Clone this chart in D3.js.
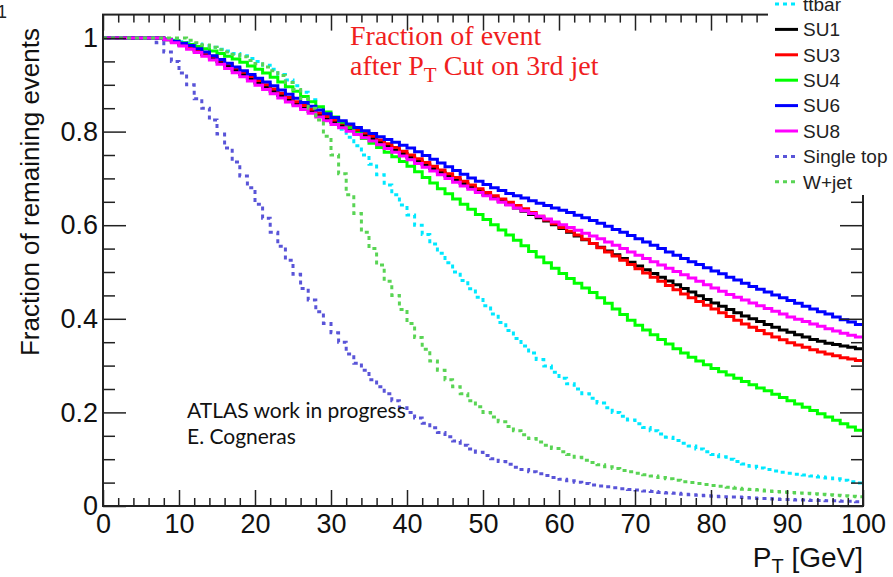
<!DOCTYPE html>
<html>
<head>
<meta charset="utf-8">
<script src="https://cdn.jsdelivr.net/npm/d3@7"></script>
<style>
  body { margin: 0; background: #fff; }
  svg { display: block; }
  .axis text { font-family: "Liberation Sans", Arial, sans-serif; font-size: 27px; fill: #111; }
  .axis line { stroke: #222; stroke-width: 1.5; }
</style>
</head>
<body>
<div class="container"></div>
<script>
// cut on the 3rd jet pT, one bin per GeV, bin i covers [i, i+1]
const xTicks = [0, 10, 20, 30, 40, 50, 60, 70, 80, 90, 100];
const yTicks = [0, 0.2, 0.4, 0.6, 0.8, 1];

const ttbar = [1,1,1,1,1,1,1,1,0.998,0.995,
  0.992,0.99,0.987,0.984,0.98,0.976,0.972,0.967,0.962,0.956,
  0.95,0.942,0.933,0.922,0.91,0.898,0.884,0.868,0.852,0.836,
  0.82,0.805,0.788,0.77,0.75,0.73,0.708,0.686,0.665,0.643,
  0.622,0.6,0.58,0.56,0.54,0.52,0.5,0.482,0.464,0.446,
  0.428,0.41,0.392,0.375,0.358,0.342,0.327,0.313,0.299,0.286,
  0.273,0.261,0.25,0.24,0.23,0.22,0.21,0.2,0.192,0.184,
  0.176,0.168,0.161,0.154,0.147,0.14,0.134,0.128,0.122,0.116,
  0.11,0.105,0.1,0.095,0.09,0.085,0.081,0.078,0.075,0.072,
  0.07,0.068,0.066,0.064,0.062,0.06,0.058,0.055,0.052,0.049];

const su1 = [1,1,1,1,1,1,1,1,0.996,0.991,
  0.985,0.979,0.972,0.965,0.957,0.949,0.94,0.931,0.922,0.913,
  0.904,0.895,0.886,0.877,0.868,0.859,0.851,0.843,0.835,0.827,
  0.82,0.813,0.806,0.799,0.792,0.785,0.777,0.769,0.761,0.753,
  0.745,0.737,0.729,0.721,0.713,0.705,0.697,0.689,0.681,0.673,
  0.665,0.658,0.651,0.644,0.637,0.63,0.623,0.616,0.609,0.601,
  0.593,0.585,0.577,0.569,0.561,0.553,0.545,0.537,0.529,0.521,
  0.513,0.505,0.497,0.489,0.481,0.473,0.465,0.457,0.449,0.441,
  0.434,0.427,0.42,0.413,0.406,0.4,0.394,0.388,0.382,0.376,
  0.371,0.366,0.361,0.356,0.352,0.348,0.345,0.342,0.339,0.336];

const su3 = [1,1,1,1,1,1,1,1,0.997,0.992,
  0.987,0.981,0.975,0.968,0.961,0.953,0.945,0.936,0.927,0.918,
  0.909,0.9,0.891,0.882,0.873,0.864,0.856,0.848,0.84,0.832,
  0.825,0.818,0.811,0.804,0.797,0.79,0.782,0.774,0.766,0.758,
  0.75,0.742,0.734,0.726,0.718,0.71,0.702,0.694,0.686,0.678,
  0.67,0.663,0.656,0.649,0.642,0.635,0.627,0.619,0.611,0.603,
  0.595,0.587,0.579,0.57,0.561,0.552,0.543,0.534,0.525,0.516,
  0.507,0.498,0.489,0.48,0.471,0.462,0.453,0.445,0.437,0.429,
  0.421,0.413,0.405,0.397,0.389,0.382,0.375,0.368,0.361,0.355,
  0.349,0.344,0.339,0.334,0.329,0.325,0.321,0.317,0.314,0.311];

const su4 = [1,1,1,1,1,1,1,1,0.998,0.994,
  0.99,0.986,0.982,0.977,0.972,0.967,0.961,0.955,0.948,0.94,
  0.933,0.925,0.916,0.906,0.896,0.886,0.875,0.864,0.853,0.842,
  0.831,0.82,0.808,0.797,0.785,0.775,0.766,0.756,0.746,0.736,
  0.726,0.714,0.702,0.69,0.678,0.667,0.656,0.645,0.634,0.623,
  0.612,0.601,0.59,0.579,0.568,0.556,0.544,0.532,0.52,0.508,
  0.497,0.486,0.476,0.466,0.456,0.445,0.433,0.421,0.409,0.397,
  0.386,0.376,0.366,0.356,0.346,0.336,0.327,0.318,0.31,0.302,
  0.294,0.287,0.28,0.273,0.266,0.259,0.252,0.246,0.239,0.232,
  0.225,0.218,0.211,0.204,0.197,0.19,0.183,0.176,0.169,0.162];

const su6 = [1,1,1,1,1,1,1,1,0.997,0.993,
  0.989,0.984,0.977,0.97,0.962,0.954,0.946,0.938,0.93,0.922,
  0.914,0.906,0.898,0.889,0.88,0.871,0.862,0.854,0.846,0.838,
  0.83,0.823,0.816,0.809,0.802,0.796,0.789,0.783,0.777,0.771,
  0.765,0.757,0.749,0.741,0.733,0.725,0.717,0.709,0.701,0.694,
  0.687,0.68,0.674,0.668,0.663,0.658,0.652,0.647,0.642,0.637,
  0.632,0.627,0.621,0.616,0.61,0.604,0.598,0.591,0.585,0.578,
  0.571,0.564,0.557,0.55,0.543,0.536,0.529,0.522,0.516,0.509,
  0.502,0.496,0.489,0.483,0.476,0.469,0.463,0.457,0.451,0.445,
  0.439,0.433,0.427,0.421,0.415,0.41,0.404,0.398,0.393,0.388];

const su8 = [1,1,1,1,1,1,1,1,0.996,0.99,
  0.983,0.976,0.969,0.961,0.953,0.944,0.935,0.926,0.917,0.908,
  0.899,0.89,0.881,0.872,0.863,0.855,0.847,0.839,0.831,0.823,
  0.815,0.808,0.801,0.794,0.787,0.78,0.772,0.764,0.756,0.748,
  0.74,0.732,0.724,0.716,0.708,0.7,0.692,0.684,0.677,0.67,
  0.663,0.656,0.649,0.643,0.637,0.631,0.625,0.619,0.613,0.607,
  0.601,0.595,0.589,0.583,0.577,0.571,0.564,0.557,0.55,0.543,
  0.536,0.529,0.522,0.515,0.508,0.501,0.494,0.487,0.48,0.473,
  0.466,0.459,0.452,0.446,0.44,0.434,0.428,0.422,0.416,0.41,
  0.404,0.399,0.394,0.389,0.384,0.379,0.374,0.369,0.365,0.361];

const singleTop = [1,1,1,1,1,1,1,0.99,0.97,0.95,
  0.925,0.9,0.87,0.85,0.825,0.795,0.765,0.735,0.705,0.68,
  0.645,0.615,0.585,0.555,0.525,0.495,0.465,0.44,0.415,0.39,
  0.37,0.35,0.325,0.305,0.29,0.27,0.255,0.24,0.225,0.21,
  0.2,0.188,0.177,0.167,0.157,0.148,0.139,0.13,0.122,0.115,
  0.108,0.101,0.095,0.089,0.083,0.078,0.073,0.069,0.065,0.061,
  0.057,0.054,0.051,0.048,0.045,0.043,0.041,0.039,0.037,0.035,
  0.034,0.032,0.031,0.029,0.028,0.027,0.025,0.024,0.023,0.022,
  0.021,0.02,0.019,0.019,0.018,0.017,0.016,0.016,0.015,0.014,
  0.014,0.013,0.013,0.012,0.012,0.011,0.011,0.01,0.01,0.009];

const wJet = [1,1,1,1,1,1,1,1,1,1,
  1,0.995,0.99,0.985,0.98,0.975,0.97,0.965,0.96,0.952,
  0.945,0.938,0.93,0.92,0.905,0.89,0.87,0.85,0.825,0.79,
  0.75,0.71,0.665,0.625,0.585,0.55,0.515,0.48,0.45,0.42,
  0.39,0.36,0.335,0.31,0.29,0.27,0.255,0.24,0.225,0.212,
  0.2,0.19,0.18,0.17,0.161,0.152,0.144,0.137,0.13,0.123,
  0.116,0.11,0.104,0.098,0.093,0.088,0.084,0.08,0.076,0.073,
  0.07,0.067,0.064,0.061,0.058,0.055,0.052,0.05,0.048,0.046,
  0.044,0.042,0.04,0.038,0.036,0.035,0.034,0.032,0.031,0.03,
  0.029,0.028,0.027,0.026,0.025,0.024,0.023,0.022,0.021,0.02];

const seriesNames = ["ttbar", "SU1", "SU3", "SU4", "SU6", "SU8", "Single top", "W+jet"];
const seriesValues = [ttbar, su1, su3, su4, su6, su8, singleTop, wJet];
const seriesColors = ["#00e8ff", "#000000", "#ff0000", "#00ff00", "#0000ff", "#ff00ff", "#5954d8", "#59d454"];
const seriesDashed = [true, false, false, false, false, false, true, true];

const width = 893;
const height = 577;

const svg = d3.select(".container").append("svg")
  .attr("width", width)
  .attr("height", height);

const x = d3.scaleLinear().domain([0, 100]).range([103, 863]);
const y = d3.scaleLinear().domain([0, 1.05]).range([506, 14.6]);

// histogram curves
const line = d3.line()
  .x((d) => x(d[0]))
  .y((d) => y(d[1]))
  .curve(d3.curveStepAfter);

seriesValues.forEach((values, i) => {
  const pts = values.map((v, k) => [k, v]);
  pts.push([values.length, values[values.length - 1]]);
  svg.append("path")
    .datum(pts)
    .attr("fill", "none")
    .attr("stroke", seriesColors[i])
    .attr("stroke-width", 3)
    .attr("stroke-dasharray", seriesDashed[i] ? "4,4" : null)
    .attr("d", line);
});

// frame
svg.append("rect")
  .attr("x", x(0))
  .attr("y", y(1.05))
  .attr("width", x(100) - x(0))
  .attr("height", y(0) - y(1.05))
  .attr("fill", "none")
  .attr("stroke", "#222")
  .attr("stroke-width", 2);

function cleanAxis(g) {
  g.select(".domain").remove();
}

const xMinor = d3.range(0, 101, 2).filter((d) => d % 10 !== 0);
const yMinor = d3.range(0, 21).map((d) => d * 0.05).filter((d, i) => i % 4 !== 0);

svg.append("g").attr("class", "axis").attr("transform", `translate(0,${y(0)})`)
  .call(d3.axisBottom(x).tickValues(xTicks).tickSize(-16).tickPadding(8).tickFormat((d) => d))
  .call(cleanAxis);
svg.append("g").attr("class", "axis").attr("transform", `translate(0,${y(0)})`)
  .call(d3.axisBottom(x).tickValues(xMinor).tickSize(-8).tickFormat(""))
  .call(cleanAxis);
svg.append("g").attr("class", "axis").attr("transform", `translate(0,${y(1.05)})`)
  .call(d3.axisTop(x).tickValues(xTicks).tickSize(-16).tickFormat(""))
  .call(cleanAxis);
svg.append("g").attr("class", "axis").attr("transform", `translate(0,${y(1.05)})`)
  .call(d3.axisTop(x).tickValues(xMinor).tickSize(-8).tickFormat(""))
  .call(cleanAxis);

svg.append("g").attr("class", "axis").attr("transform", `translate(${x(0)},0)`)
  .call(d3.axisLeft(y).tickValues(yTicks).tickSize(-23).tickPadding(5).tickFormat((d) => d))
  .call(cleanAxis);
svg.append("g").attr("class", "axis").attr("transform", `translate(${x(0)},0)`)
  .call(d3.axisLeft(y).tickValues(yMinor).tickSize(-12).tickFormat(""))
  .call(cleanAxis);
svg.append("g").attr("class", "axis").attr("transform", `translate(${x(100)},0)`)
  .call(d3.axisRight(y).tickValues(yTicks).tickSize(-23).tickFormat(""))
  .call(cleanAxis);
svg.append("g").attr("class", "axis").attr("transform", `translate(${x(100)},0)`)
  .call(d3.axisRight(y).tickValues(yMinor).tickSize(-12).tickFormat(""))
  .call(cleanAxis);

// axis titles
svg.append("text")
  .attr("transform", "translate(39,28) rotate(-90)")
  .attr("text-anchor", "end")
  .style("font-family", "'Liberation Sans', Arial, sans-serif")
  .style("font-size", "26px")
  .attr("fill", "#111")
  .text("Fraction of remaining events");

const xTitle = svg.append("text")
  .attr("x", 863)
  .attr("y", 567)
  .attr("text-anchor", "end")
  .style("font-family", "'Liberation Sans', Arial, sans-serif")
  .style("font-size", "28px")
  .attr("fill", "#111");
xTitle.append("tspan").text("P");
xTitle.append("tspan").attr("dy", 6).style("font-size", "20px").text("T");
xTitle.append("tspan").attr("dy", -6).text(" [GeV]");

// red annotation
const note = svg.append("text")
  .attr("x", 350)
  .attr("y", 45)
  .style("font-family", "'Liberation Serif', 'Times New Roman', serif")
  .style("font-size", "28px")
  .attr("fill", "#f01e1e");
note.append("tspan").attr("x", 350).text("Fraction of event");
note.append("tspan").attr("x", 350).attr("dy", 30).text("after P");
note.append("tspan").attr("dy", 7).style("font-size", "21px").text("T");
note.append("tspan").attr("dy", -7).text(" Cut on 3rd jet");

// author note
const author = svg.append("text")
  .style("font-family", "Lato, 'Open Sans', sans-serif")
  .style("font-size", "21px")
  .attr("fill", "#111");
author.append("tspan").attr("x", 187).attr("y", 418).text("ATLAS work in progress");
author.append("tspan").attr("x", 187).attr("y", 444).text("E. Cogneras");

// legend, white box covering the frame corner
svg.append("rect")
  .attr("x", 768)
  .attr("y", 0)
  .attr("width", width - 768)
  .attr("height", 195)
  .attr("fill", "#fff");

const legend = svg.append("g")
  .selectAll("g")
  .data(seriesNames)
  .join("g")
  .attr("transform", (d, i) => `translate(0,${4 + i * 25.4})`);

legend.append("line")
  .attr("x1", 775)
  .attr("x2", 798)
  .attr("stroke", (d, i) => seriesColors[i])
  .attr("stroke-width", 3)
  .attr("stroke-dasharray", (d, i) => (seriesDashed[i] ? "4,4" : null));

legend.append("text")
  .attr("x", 803)
  .attr("dy", "0.36em")
  .style("font-family", "'Liberation Sans', Arial, sans-serif")
  .style("font-size", "19px")
  .attr("fill", "#222")
  .text((d) => d);

// page number fragment at the corner
svg.append("text")
  .attr("x", -3)
  .attr("y", 18)
  .style("font-family", "'Liberation Sans', Arial, sans-serif")
  .style("font-size", "18px")
  .attr("fill", "#222")
  .text("1");
</script>
</body>
</html>
